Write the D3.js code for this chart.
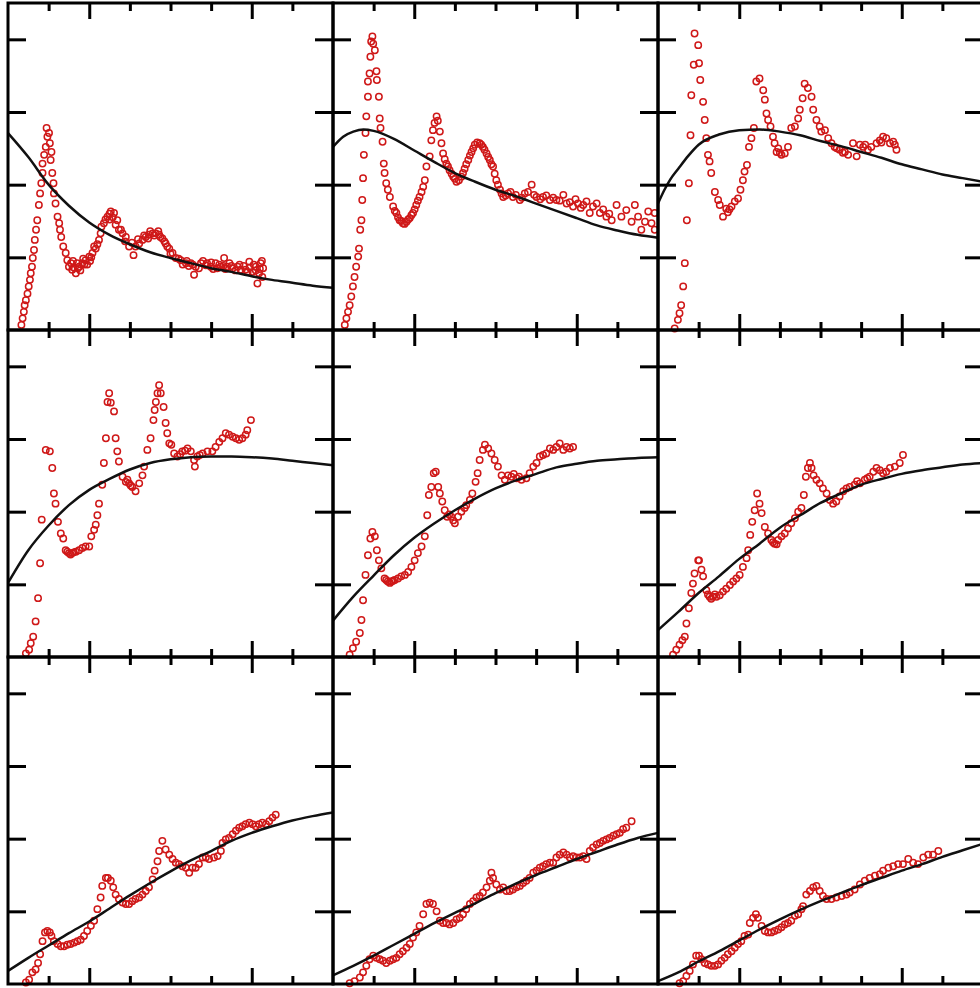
<!DOCTYPE html>
<html>
<head>
<meta charset="utf-8">
<script src="https://cdn.jsdelivr.net/npm/d3@7"></script>
<style>
  body { margin: 0; background: #fff; }
  svg { display: block; }
</style>
</head>
<body>
<div id="chart"></div>
<script>
// measured points, one array per panel (x in tick units 0-8, y in tick units 0-4.5)
var obs1 = [[0.33,0.07],[0.36,0.16],[0.39,0.25],[0.41,0.34],[0.44,0.41],[0.48,0.50],[0.51,0.60],[0.54,0.69],[0.56,0.78],[0.59,0.87],
  [0.61,0.99],[0.64,1.10],[0.66,1.24],[0.69,1.38],[0.72,1.51],[0.76,1.72],[0.79,1.88],[0.82,2.02],[0.85,2.16],[0.85,2.29],
  [0.89,2.41],[0.93,2.52],[0.97,2.66],[0.95,2.78],[1.01,2.71],[1.03,2.57],[1.07,2.45],[1.05,2.34],[1.09,2.16],[1.12,2.02],
  [1.13,1.88],[1.17,1.74],[1.22,1.56],[1.26,1.47],[1.28,1.38],[1.31,1.28],[1.36,1.15],[1.42,1.06],[1.46,0.96],[1.50,0.87],
  [1.58,0.83],[1.67,0.78],[1.75,0.87],[1.83,0.92],[1.91,0.96],[2.00,1.01],[2.08,1.06],[2.16,1.12],[2.24,1.24],[2.28,1.33],
  [2.36,1.47],[2.45,1.56],[2.53,1.63],[2.61,1.61],[2.69,1.51],[2.73,1.38],[2.82,1.33],[2.90,1.28],[2.98,1.15],[3.09,1.03],
  [3.14,1.15],[3.23,1.19],[3.31,1.24],[3.39,1.28],[3.47,1.31],[3.56,1.33],[3.64,1.33],[3.72,1.31],[3.80,1.26],[3.88,1.19],
  [3.97,1.12],[4.05,1.06],[4.13,0.99],[4.25,0.96],[4.38,0.92],[4.50,0.92],[4.62,0.87],[4.58,0.76],[4.75,0.92],[4.87,0.89],
  [4.99,0.87],[5.11,0.92],[5.24,0.87],[5.32,0.99],[5.40,0.87],[5.53,0.85],[5.65,0.87],[5.73,0.83],[5.85,0.83],[5.94,0.94],
  [6.02,0.80],[6.10,0.87],[6.18,0.78],[6.14,0.64],[6.22,0.92],[6.26,0.73],
  [4.30,0.90],[4.45,0.88],[4.70,0.85],[4.80,0.95],[5.00,0.93],[5.15,0.85],[5.30,0.88],[5.45,0.92],[5.60,0.82],[5.80,0.88],
  [5.90,0.80],[6.05,0.90],[6.20,0.84],[6.25,0.95],[1.55,0.92],[1.62,0.86],[1.70,0.92],[1.78,0.82],[1.85,0.98],[1.95,0.90],
  [2.05,1.00],[2.12,1.15],[2.20,1.18],[2.30,1.42],[2.40,1.52],[2.50,1.60],[2.58,1.55],[2.65,1.45],[2.78,1.38],[2.88,1.22],
  [3.05,1.20],[3.20,1.25],[3.35,1.30],[3.50,1.36],[3.60,1.30],[3.70,1.36],[3.85,1.22],[4.00,1.05],
  [4.20,0.98],[4.40,0.95],[4.55,0.90],[4.90,0.92],[5.05,0.84],[5.20,0.90],[5.35,0.84],[5.50,0.88],[5.70,0.90],[5.95,0.86],
  [6.10,0.82],[6.28,0.85],[1.60,0.95],[1.72,0.85],[1.88,0.90],[2.02,0.95],[2.50,1.52],[3.45,1.26],[3.75,1.28],[3.92,1.15]];

var obs2 = [[0.29,0.07],[0.33,0.16],[0.37,0.25],[0.41,0.34],[0.45,0.46],[0.49,0.60],[0.53,0.73],[0.57,0.87],[0.62,1.01],[0.64,1.12],
  [0.67,1.38],[0.70,1.51],[0.72,1.79],[0.74,2.09],[0.76,2.41],[0.80,2.71],[0.82,2.94],[0.86,3.21],[0.86,3.42],[0.90,3.53],
  [0.92,3.76],[0.94,3.97],[0.97,4.04],[0.99,3.94],[1.03,3.85],[1.07,3.56],[1.08,3.44],[1.13,3.21],[1.15,2.91],[1.17,2.78],
  [1.22,2.59],[1.25,2.29],[1.27,2.16],[1.31,2.02],[1.35,1.93],[1.40,1.83],[1.48,1.70],[1.56,1.61],[1.64,1.51],[1.72,1.47],
  [1.81,1.49],[1.89,1.54],[1.97,1.61],[2.05,1.72],[2.13,1.83],[2.22,1.97],[2.26,2.06],[2.30,2.25],[2.38,2.39],[2.42,2.61],
  [2.46,2.75],[2.55,2.94],[2.63,2.73],[2.67,2.57],[2.71,2.43],[2.79,2.29],[2.87,2.20],[2.96,2.11],[3.04,2.04],[3.16,2.11],
  [3.24,2.22],[3.33,2.34],[3.41,2.45],[3.49,2.55],[3.61,2.57],[3.69,2.52],[3.78,2.43],[3.86,2.34],[3.94,2.25],[4.02,2.06],
  [4.11,1.93],[4.19,1.83],[4.31,1.88],[4.43,1.83],[4.60,1.79],[4.72,1.88],[4.89,2.00],[5.01,1.83],[5.17,1.83],[5.34,1.79],
  [5.50,1.79],[5.67,1.86],[5.75,1.74],[5.91,1.70],[6.03,1.74],[6.16,1.72],[6.24,1.77],[6.32,1.61],[6.49,1.74],[6.57,1.61],
  [6.73,1.56],[6.86,1.51],[6.98,1.72],[7.10,1.56],[7.22,1.65],[7.35,1.49],[7.43,1.72],[7.51,1.56],[7.59,1.38],[7.68,1.49],
  [7.76,1.63],[7.84,1.47],[7.92,1.38],[7.92,1.61],
  [1.52,1.64],[1.60,1.55],[1.68,1.50],[1.76,1.46],[1.85,1.52],[1.93,1.58],[2.01,1.66],[2.09,1.78],[2.18,1.90],
  [2.50,2.85],[2.58,2.88],[2.75,2.35],[2.83,2.25],[2.92,2.15],[3.00,2.08],[3.10,2.06],[3.20,2.16],[3.28,2.28],[3.37,2.40],
  [3.45,2.50],[3.55,2.58],[3.65,2.55],[3.73,2.48],[3.82,2.38],[3.90,2.28],[3.98,2.15],[4.06,2.00],[4.15,1.88],
  [4.25,1.85],[4.37,1.90],[4.50,1.86],[4.65,1.82],[4.80,1.90],[4.95,1.86],[5.10,1.80],[5.25,1.85],[5.42,1.82],[5.58,1.78],
  [5.83,1.76],[5.97,1.80],[6.10,1.68],[6.40,1.70],[6.65,1.66],[6.80,1.60]];

var obs3 = [[0.41,0.02],[0.49,0.14],[0.53,0.23],[0.57,0.34],[0.62,0.60],[0.66,0.92],[0.71,1.51],[0.76,2.02],[0.80,2.68],[0.82,3.23],
  [0.88,3.65],[0.90,4.08],[0.99,3.92],[1.01,3.67],[1.04,3.44],[1.11,3.14],[1.15,2.89],[1.19,2.64],[1.23,2.41],[1.27,2.32],
  [1.31,2.16],[1.40,1.90],[1.48,1.79],[1.52,1.72],[1.60,1.56],[1.68,1.67],[1.81,1.70],[1.89,1.77],[1.97,1.81],[2.03,1.93],
  [2.09,2.06],[2.13,2.18],[2.19,2.27],[2.24,2.52],[2.30,2.64],[2.36,2.78],[2.42,3.42],[2.50,3.46],[2.59,3.30],[2.63,3.17],
  [2.67,2.98],[2.71,2.89],[2.77,2.80],[2.83,2.66],[2.87,2.57],[2.96,2.50],[3.04,2.41],[3.12,2.43],[3.20,2.52],[3.28,2.78],
  [3.37,2.80],[3.45,2.91],[3.49,3.03],[3.56,3.19],[3.61,3.39],[3.69,3.33],[3.78,3.21],[3.82,3.03],[3.90,2.89],[3.98,2.80],
  [4.02,2.73],[4.11,2.75],[4.19,2.64],[4.27,2.57],[4.35,2.52],[4.47,2.48],[4.60,2.45],[4.68,2.41],[4.80,2.57],[4.89,2.39],
  [4.97,2.55],[5.05,2.52],[5.17,2.48],[5.25,2.52],[5.38,2.57],[5.46,2.61],[5.54,2.66],[5.62,2.64],[5.71,2.57],[5.83,2.55],
  [5.87,2.48],[5.79,2.59],[1.72,1.62],[1.76,1.66],[2.92,2.45],[3.00,2.44],[4.40,2.50],[4.55,2.44],[5.10,2.55],[5.50,2.58]];

var obs4 = [[0.44,0.05],[0.52,0.10],[0.56,0.19],[0.62,0.28],[0.68,0.49],[0.74,0.81],[0.79,1.29],[0.83,1.89],[0.93,2.85],[1.03,2.83],
  [1.09,2.60],[1.13,2.25],[1.17,2.11],[1.23,1.86],[1.30,1.70],[1.36,1.63],[1.42,1.47],[1.50,1.43],[1.58,1.43],[1.67,1.45],
  [1.75,1.47],[1.83,1.50],[1.91,1.52],[2.00,1.52],[2.05,1.66],[2.12,1.75],[2.16,1.82],[2.20,1.95],[2.24,2.11],[2.32,2.37],
  [2.36,2.67],[2.41,3.01],[2.45,3.51],[2.49,3.63],[2.53,3.50],[2.61,3.38],[2.65,3.01],[2.69,2.83],[2.73,2.69],[2.82,2.48],
  [2.90,2.41],[2.98,2.39],[3.06,2.34],[3.14,2.28],[3.23,2.39],[3.31,2.50],[3.35,2.62],[3.43,2.85],[3.51,3.01],[3.58,3.26],
  [3.61,3.40],[3.64,3.51],[3.68,3.63],[3.72,3.74],[3.76,3.63],[3.83,3.44],[3.88,3.22],[3.92,3.08],[3.97,2.94],[4.02,2.92],
  [4.09,2.80],[4.17,2.76],[4.29,2.83],[4.42,2.87],[4.50,2.83],[4.58,2.71],[4.60,2.62],[4.66,2.76],[4.79,2.80],[4.91,2.83],
  [5.03,2.83],[5.11,2.89],[5.20,2.96],[5.28,3.01],[5.36,3.08],[5.44,3.06],[5.53,3.03],[5.61,3.01],[5.69,2.99],[5.77,3.01],
  [5.85,3.06],[5.89,3.12],[5.98,3.26],[1.46,1.45],[1.54,1.41],[1.62,1.44],[2.94,2.44],[3.02,2.36],[4.24,2.79],[4.36,2.84],[4.72,2.78]];

var obs5 = [[0.41,0.03],[0.49,0.12],[0.57,0.21],[0.66,0.33],[0.70,0.51],[0.74,0.78],[0.80,1.13],[0.86,1.40],[0.92,1.63],[0.97,1.72],
  [1.03,1.66],[1.08,1.47],[1.13,1.33],[1.19,1.22],[1.27,1.08],[1.35,1.04],[1.44,1.04],[1.52,1.06],[1.60,1.08],[1.68,1.11],
  [1.77,1.13],[1.85,1.17],[1.93,1.24],[2.01,1.33],[2.09,1.43],[2.18,1.52],[2.26,1.66],[2.32,1.95],[2.36,2.23],[2.42,2.34],
  [2.48,2.53],[2.53,2.55],[2.59,2.34],[2.63,2.25],[2.69,2.14],[2.75,2.02],[2.81,1.93],[2.91,1.93],[3.00,1.84],[3.08,1.93],
  [3.16,2.00],[3.24,2.05],[3.28,2.09],[3.37,2.16],[3.43,2.25],[3.51,2.41],[3.56,2.53],[3.61,2.71],[3.69,2.85],[3.74,2.92],
  [3.82,2.87],[3.90,2.80],[3.98,2.71],[4.06,2.62],[4.15,2.50],[4.23,2.44],[4.31,2.50],[4.39,2.48],[4.52,2.46],[4.64,2.44],
  [4.76,2.46],[4.84,2.53],[4.93,2.62],[5.01,2.67],[5.09,2.76],[5.17,2.78],[5.25,2.80],[5.34,2.87],[5.42,2.85],[5.50,2.89],
  [5.58,2.94],[5.67,2.85],[5.75,2.89],[5.83,2.87],[5.91,2.89],[1.31,1.06],[1.40,1.02],[1.48,1.05],[2.86,1.96],[2.96,1.88],[4.45,2.52],[4.58,2.48]];

var obs6 = [[0.37,0.03],[0.45,0.10],[0.53,0.17],[0.60,0.23],[0.66,0.28],[0.70,0.46],[0.76,0.67],[0.82,0.88],[0.86,1.01],[0.90,1.15],
  [0.99,1.33],[1.01,1.33],[1.07,1.20],[1.11,1.11],[1.19,0.92],[1.27,0.83],[1.35,0.83],[1.44,0.83],[1.52,0.85],[1.60,0.90],
  [1.68,0.94],[1.77,0.99],[1.85,1.04],[1.93,1.08],[2.01,1.13],[2.09,1.24],[2.18,1.36],[2.22,1.47],[2.27,1.68],[2.32,1.86],
  [2.38,2.02],[2.44,2.25],[2.50,2.11],[2.55,1.98],[2.63,1.79],[2.71,1.70],[2.79,1.61],[2.87,1.56],[2.96,1.61],[3.04,1.66],
  [3.12,1.70],[3.20,1.77],[3.28,1.84],[3.37,1.91],[3.45,2.00],[3.53,2.05],[3.59,2.23],[3.64,2.48],[3.69,2.60],[3.74,2.67],
  [3.78,2.60],[3.83,2.50],[3.90,2.44],[3.98,2.39],[4.06,2.32],[4.15,2.25],[4.23,2.16],[4.31,2.11],[4.39,2.14],[4.47,2.21],
  [4.56,2.28],[4.64,2.32],[4.72,2.34],[4.84,2.37],[4.97,2.39],[5.09,2.44],[5.21,2.48],[5.30,2.55],[5.38,2.60],[5.46,2.57],
  [5.54,2.53],[5.62,2.55],[5.71,2.60],[5.83,2.62],[5.95,2.67],[6.03,2.78],[1.23,0.86],[1.31,0.80],[1.40,0.86],[2.83,1.58],[2.92,1.55],[4.90,2.42],[5.15,2.46]];

var obs7 = [[0.44,0.02],[0.52,0.06],[0.60,0.16],[0.68,0.20],[0.74,0.29],[0.79,0.41],[0.85,0.59],[0.91,0.71],[0.97,0.73],[1.03,0.71],
  [1.07,0.66],[1.13,0.59],[1.22,0.55],[1.30,0.52],[1.38,0.52],[1.46,0.54],[1.54,0.55],[1.63,0.57],[1.71,0.59],[1.79,0.61],
  [1.87,0.66],[1.95,0.73],[2.04,0.80],[2.12,0.87],[2.20,1.03],[2.28,1.19],[2.32,1.35],[2.41,1.46],[2.46,1.46],[2.53,1.42],
  [2.59,1.33],[2.65,1.23],[2.73,1.17],[2.82,1.12],[2.90,1.10],[2.98,1.10],[3.06,1.14],[3.14,1.17],[3.23,1.19],[3.31,1.23],
  [3.39,1.28],[3.47,1.33],[3.56,1.44],[3.61,1.56],[3.68,1.69],[3.72,1.83],[3.80,1.97],[3.88,1.85],[3.97,1.78],[4.05,1.72],
  [4.13,1.67],[4.21,1.65],[4.29,1.62],[4.38,1.60],[4.46,1.53],[4.54,1.60],[4.62,1.60],[4.70,1.65],[4.79,1.74],[4.87,1.74],
  [4.95,1.72],[5.07,1.74],[5.16,1.76],[5.24,1.83],[5.28,1.94],[5.36,1.99],[5.44,2.01],[5.53,2.06],[5.61,2.11],[5.69,2.15],
  [5.77,2.17],[5.85,2.20],[5.94,2.22],[6.02,2.20],[6.10,2.17],[6.18,2.20],[6.26,2.22],[6.35,2.20],[6.43,2.24],[6.51,2.29],
  [6.59,2.33]];

var obs8 = [[0.41,0.01],[0.53,0.04],[0.66,0.09],[0.74,0.16],[0.82,0.25],[0.90,0.34],[0.99,0.39],[1.07,0.36],[1.15,0.34],[1.23,0.32],
  [1.31,0.29],[1.40,0.32],[1.48,0.34],[1.56,0.36],[1.64,0.41],[1.72,0.45],[1.81,0.50],[1.89,0.55],[1.97,0.64],[2.05,0.71],
  [2.13,0.80],[2.22,0.96],[2.30,1.10],[2.38,1.12],[2.46,1.10],[2.55,1.00],[2.63,0.87],[2.71,0.84],[2.79,0.84],[2.87,0.82],
  [2.96,0.84],[3.04,0.89],[3.12,0.91],[3.20,0.96],[3.28,1.03],[3.37,1.10],[3.45,1.14],[3.53,1.19],[3.61,1.21],[3.69,1.26],
  [3.78,1.33],[3.86,1.42],[3.90,1.53],[3.94,1.46],[4.02,1.37],[4.11,1.30],[4.19,1.33],[4.27,1.28],[4.35,1.28],[4.43,1.30],
  [4.52,1.33],[4.60,1.35],[4.68,1.39],[4.76,1.42],[4.84,1.46],[4.93,1.53],[5.01,1.56],[5.09,1.60],[5.17,1.62],[5.25,1.65],
  [5.34,1.67],[5.42,1.67],[5.50,1.74],[5.58,1.78],[5.67,1.81],[5.75,1.78],[5.83,1.74],[5.91,1.76],[5.99,1.74],[6.08,1.74],
  [6.16,1.76],[6.24,1.72],[6.32,1.83],[6.40,1.88],[6.49,1.92],[6.57,1.94],[6.65,1.97],[6.73,1.99],[6.81,2.01],[6.90,2.04],
  [6.98,2.06],[7.06,2.08],[7.14,2.13],[7.22,2.15],[7.35,2.24]];

var obs9 = [[0.53,0.01],[0.62,0.04],[0.70,0.11],[0.78,0.18],[0.86,0.27],[0.94,0.39],[1.01,0.39],[1.07,0.34],[1.15,0.29],[1.23,0.27],
  [1.31,0.25],[1.40,0.25],[1.48,0.27],[1.56,0.32],[1.64,0.36],[1.72,0.41],[1.81,0.45],[1.89,0.50],[1.97,0.55],[2.05,0.59],
  [2.13,0.66],[2.22,0.68],[2.26,0.84],[2.34,0.91],[2.41,0.96],[2.46,0.91],[2.55,0.80],[2.63,0.73],[2.71,0.71],[2.79,0.71],
  [2.87,0.73],[2.96,0.75],[3.04,0.78],[3.12,0.82],[3.20,0.84],[3.28,0.87],[3.37,0.94],[3.45,0.96],[3.53,1.03],[3.57,1.07],
  [3.65,1.23],[3.74,1.28],[3.82,1.33],[3.90,1.35],[3.98,1.28],[4.06,1.21],[4.15,1.17],[4.27,1.17],[4.39,1.19],[4.52,1.21],
  [4.64,1.23],[4.72,1.26],[4.84,1.30],[4.97,1.37],[5.09,1.42],[5.21,1.46],[5.34,1.49],[5.46,1.51],[5.54,1.56],[5.67,1.60],
  [5.79,1.62],[5.91,1.65],[6.03,1.65],[6.16,1.72],[6.28,1.67],[6.40,1.65],[6.53,1.74],[6.65,1.78],[6.77,1.78],[6.90,1.83]];

// fitted curves
var fit1 = [[0,2.71],[0.5,2.38],[1,2.00],[1.5,1.71],[2,1.48],[2.5,1.31],[3,1.18],[3.5,1.07],[4,0.99],[4.5,0.92],[5,0.85],[5.5,0.80],[6,0.74],[6.5,0.69],[7,0.65],[7.5,0.61],[8,0.58]];
var fit2 = [[0,2.52],[0.25,2.66],[0.5,2.73],[0.75,2.76],[1,2.74],[1.5,2.63],[2,2.47],[2.5,2.31],[3,2.16],[3.5,2.04],[4,1.93],[4.5,1.84],[5,1.74],[5.5,1.64],[6,1.54],[6.5,1.44],[7,1.37],[7.5,1.31],[8,1.27]];
var fit3 = [[0,1.74],[0.15,1.92],[0.3,2.07],[0.5,2.22],[0.75,2.40],[1,2.55],[1.5,2.69],[2,2.75],[2.5,2.76],[3,2.73],[3.5,2.68],[4,2.60],[4.5,2.53],[5,2.45],[5.5,2.37],[6,2.28],[6.5,2.21],[7,2.14],[7.5,2.09],[8,2.04]];
var fit4 = [[0,1.02],[0.5,1.47],[1,1.81],[1.5,2.09],[2,2.30],[2.5,2.45],[3,2.58],[3.5,2.67],[4,2.72],[4.5,2.75],[5,2.76],[5.5,2.76],[6,2.75],[6.5,2.73],[7,2.70],[7.5,2.67],[8,2.64]];
var fit5 = [[0,0.50],[0.5,0.83],[1,1.12],[1.5,1.40],[2,1.64],[2.5,1.84],[3,2.02],[3.5,2.18],[4,2.32],[4.5,2.43],[5,2.52],[5.5,2.61],[6,2.66],[6.5,2.70],[7,2.72],[7.5,2.74],[8,2.75]];
var fit6 = [[0,0.37],[0.5,0.62],[1,0.88],[1.5,1.11],[2,1.35],[2.5,1.56],[3,1.78],[3.5,1.95],[4,2.12],[4.5,2.25],[5,2.37],[5.5,2.45],[6,2.52],[6.5,2.57],[7,2.61],[7.5,2.65],[8,2.67]];
var fit7 = [[0,0.18],[0.5,0.36],[1,0.53],[1.5,0.70],[2,0.86],[2.5,1.04],[3,1.22],[3.5,1.39],[4,1.55],[4.5,1.70],[5,1.83],[5.5,1.97],[6,2.08],[6.5,2.17],[7,2.25],[7.5,2.31],[8,2.36]];
var fit8 = [[0,0.12],[0.5,0.25],[1,0.39],[1.5,0.54],[2,0.69],[2.5,0.84],[3,0.98],[3.5,1.11],[4,1.25],[4.5,1.38],[5,1.50],[5.5,1.61],[6,1.72],[6.5,1.82],[7,1.92],[7.5,2.01],[8,2.08]];
var fit9 = [[0,0.04],[0.5,0.16],[1,0.31],[1.5,0.45],[2,0.60],[2.5,0.75],[3,0.89],[3.5,1.02],[4,1.14],[4.5,1.25],[5,1.36],[5.5,1.46],[6,1.56],[6.5,1.65],[7,1.75],[7.5,1.84],[8,1.93]];

var xMajorTicks = [2, 6];
var xMinorTicks = [1, 3, 4, 5, 7];
var yTicks = [1, 2, 3, 4];

var panels = [
  { obs: obs1, fit: fit1 }, { obs: obs2, fit: fit2 }, { obs: obs3, fit: fit3 },
  { obs: obs4, fit: fit4 }, { obs: obs5, fit: fit5 }, { obs: obs6, fit: fit6 },
  { obs: obs7, fit: fit7 }, { obs: obs8, fit: fit8 }, { obs: obs9, fit: fit9 }
];

var width = 980, height = 988;
var panelW = 325, panelH = 327;
var left0 = 8, top0 = 3;

var x = d3.scaleLinear().domain([0, 8]).range([0, panelW]);
var y = d3.scaleLinear().domain([0, 4.5]).range([panelH, 0]);

var line = d3.line()
  .x(function (d) { return x(d[0]); })
  .y(function (d) { return y(d[1]); })
  .curve(d3.curveMonotoneX);

var svg = d3.select('#chart').append('svg')
  .attr('width', width)
  .attr('height', height);

function styleAxis(g) {
  g.select('.domain').remove();
  g.selectAll('.tick line').attr('stroke', '#000').attr('stroke-width', 3);
}

panels.forEach(function (p, i) {
  var col = i % 3, row = Math.floor(i / 3);
  var g = svg.append('g')
    .attr('transform', 'translate(' + (left0 + col * panelW) + ',' + (top0 + row * panelH) + ')');

  g.selectAll('.pt')
    .data(p.obs)
    .enter().append('circle')
    .attr('class', 'pt')
    .attr('cx', function (d) { return x(d[0]); })
    .attr('cy', function (d) { return y(d[1]); })
    .attr('r', 3.2)
    .attr('fill', 'none')
    .attr('stroke', '#cf1818')
    .attr('stroke-width', 1.5);

  g.append('path')
    .datum(p.fit)
    .attr('d', line)
    .attr('fill', 'none')
    .attr('stroke', '#111')
    .attr('stroke-width', 2.5);

  // frame + inward ticks
  g.append('rect')
    .attr('width', panelW).attr('height', panelH)
    .attr('fill', 'none').attr('stroke', '#000').attr('stroke-width', 3);

  g.append('g').call(d3.axisTop(x).tickValues(xMajorTicks).tickSize(-16).tickFormat('')).call(styleAxis);
  g.append('g').call(d3.axisTop(x).tickValues(xMinorTicks).tickSize(-8).tickFormat('')).call(styleAxis);
  g.append('g').attr('transform', 'translate(0,' + panelH + ')')
    .call(d3.axisBottom(x).tickValues(xMajorTicks).tickSize(-16).tickFormat('')).call(styleAxis);
  g.append('g').attr('transform', 'translate(0,' + panelH + ')')
    .call(d3.axisBottom(x).tickValues(xMinorTicks).tickSize(-8).tickFormat('')).call(styleAxis);
  g.append('g').call(d3.axisLeft(y).tickValues(yTicks).tickSize(-18).tickFormat('')).call(styleAxis);
  g.append('g').attr('transform', 'translate(' + panelW + ',0)')
    .call(d3.axisRight(y).tickValues(yTicks).tickSize(-18).tickFormat('')).call(styleAxis);
});
</script>
</body>
</html>
